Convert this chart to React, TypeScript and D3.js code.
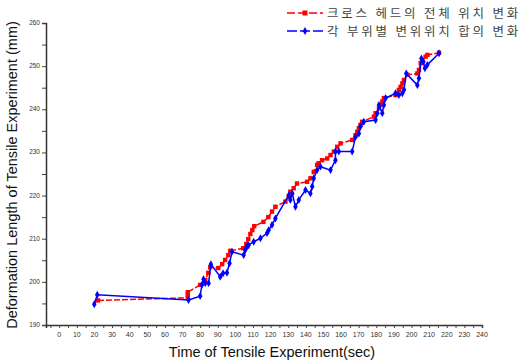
import React, { useRef, useEffect } from 'react';
import * as d3 from 'd3';

// Cross head total position change (red)
const crossTime = [22, 73, 73, 73, 80, 82.9, 84.6, 85.7, 90.3, 92.5, 94.2, 96, 97.1, 104.5, 106.2, 107.3, 108.5, 109.6, 110.7, 115.9, 118.7, 120.8, 122.7, 128.4, 130.3, 131.2, 133.1, 135, 140.7, 142.6, 144.5, 146.4, 147.3, 149.2, 152.1, 154, 155.9, 157.8, 159.7, 166.3, 168.2, 169.2, 170.1, 171, 172, 178.6, 179.6, 181.5, 182.4, 183.4, 184.3, 190.9, 192.8, 193.8, 194.8, 195.7, 197.6, 203.3, 204.2, 205.2, 206.1, 208, 209, 215.6];
const crossValue = [195.7, 196.3, 197.0, 197.6, 199.3, 200.4, 202.1, 203.4, 203.2, 204.1, 205.1, 206.2, 207.2, 207.8, 208.8, 209.9, 211.1, 212.0, 212.9, 213.9, 215.0, 216.3, 217.4, 218.6, 219.7, 220.9, 221.7, 222.8, 223.2, 224.0, 225.5, 227.1, 227.5, 228.2, 228.6, 229.4, 230.2, 231.3, 232.1, 232.9, 234.0, 234.8, 235.6, 236.4, 237.1, 238.3, 239.1, 240.2, 241.0, 241.8, 242.6, 243.3, 244.5, 245.2, 246.0, 246.8, 248.0, 248.3, 249.1, 250.7, 251.4, 252.2, 252.6, 253.1];

// Sum of displacements per part (blue)
const partTime = [19.9, 21.6, 73.4, 80, 81, 81.9, 82.9, 84.8, 86.1, 91.4, 93, 95.2, 96.7, 98.1, 104.7, 105.6, 106.6, 107.5, 110.4, 114.2, 118, 118.9, 120.8, 122.7, 130.3, 131.2, 132.3, 134.1, 136, 139.8, 142.6, 143.6, 144.5, 146.4, 148.3, 154, 156.8, 156.8, 158.7, 166.3, 168.2, 170.1, 171, 172.9, 179.6, 180.6, 181.5, 183.4, 184.3, 185.3, 190.9, 192.8, 194.8, 195.7, 197, 203.3, 204.2, 205.6, 206.7, 207.6, 209, 215.6];
const partValue = [194.8, 197.0, 195.8, 196.7, 199.3, 200.6, 199.7, 199.7, 204.1, 201.2, 202.0, 202.1, 204.3, 207.0, 206.2, 207.4, 208.2, 208.5, 209.3, 210.1, 211.3, 212.0, 213.2, 214.7, 220.1, 219.0, 220.5, 217.4, 219.0, 221.3, 220.5, 222.1, 224.0, 225.9, 226.7, 225.9, 228.2, 230.2, 230.2, 230.2, 233.6, 234.4, 236.0, 237.1, 237.5, 239.1, 241.0, 239.1, 241.0, 242.6, 243.7, 243.3, 243.7, 244.5, 248.3, 245.6, 247.2, 251.8, 251.0, 249.5, 250.3, 253.0];

const seriesNames = ['크로스 헤드의 전체 위치 변화', '각 부위별 변위위치 합의 변화'];
const seriesColors = ['#ff0000', '#0000ff'];
const xTicks = d3.range(0, 241, 10);
const yTicks = d3.range(190, 261, 10);

const App = () => {
  const svgRef = useRef<SVGSVGElement>(null);
  const width = 526;
  const height = 364;

  useEffect(() => {
    const svg = d3.select(svgRef.current);
    svg.selectAll('*').remove();

    const margin = { top: 23, right: 44, bottom: 39, left: 46 };

    const x = d3.scaleLinear().domain([-7.5, 240]).range([margin.left, width - margin.right]);
    const y = d3.scaleLinear().domain([190, 260]).range([height - margin.bottom, margin.top]);

    // Axes
    const xAxis = svg
      .append('g')
      .attr('transform', `translate(0,${height - margin.bottom})`)
      .call(d3.axisBottom(x).tickValues(d3.range(-5, 241, 5)).tickSize(3).tickFormat(() => ''));
    xAxis.select('.domain').attr('stroke', '#333').attr('stroke-width', 1.5);
    xAxis.selectAll('.tick line').attr('stroke', '#444');

    svg
      .append('g')
      .selectAll('text')
      .data(xTicks)
      .enter()
      .append('text')
      .attr('x', d => x(d))
      .attr('y', height - margin.bottom + 12)
      .attr('text-anchor', 'middle')
      .attr('font-family', 'Arial, Liberation Sans, sans-serif')
      .attr('font-size', '7px')
      .attr('fill', '#333')
      .text(d => d);

    const yAxis = svg
      .append('g')
      .attr('transform', `translate(${margin.left},0)`)
      .call(d3.axisLeft(y).tickValues(d3.range(190, 261, 5)).tickSize(4).tickFormat(() => ''));
    yAxis.select('.domain').attr('stroke', '#333').attr('stroke-width', 1.5);
    yAxis.selectAll('.tick line').attr('stroke', '#444');

    svg
      .append('g')
      .selectAll('text')
      .data(yTicks)
      .enter()
      .append('text')
      .attr('x', margin.left - 6)
      .attr('y', d => y(d) + 2)
      .attr('text-anchor', 'end')
      .attr('font-family', 'Arial, Liberation Sans, sans-serif')
      .attr('font-size', '6.5px')
      .attr('fill', '#333')
      .text(d => d);

    // Lines
    const line = d3
      .line<[number, number]>()
      .x(d => x(d[0]))
      .y(d => y(d[1]));

    const crossData: [number, number][] = crossTime.map((t, i) => [t, crossValue[i]]);
    const partData: [number, number][] = partTime.map((t, i) => [t, partValue[i]]);

    svg
      .append('path')
      .attr('d', line(crossData))
      .attr('fill', 'none')
      .attr('stroke', seriesColors[0])
      .attr('stroke-width', 1.5)
      .attr('stroke-dasharray', '6,2');

    svg
      .append('g')
      .selectAll('rect')
      .data(crossData)
      .enter()
      .append('rect')
      .attr('x', d => x(d[0]) - 2.2)
      .attr('y', d => y(d[1]) - 2.2)
      .attr('width', 4.4)
      .attr('height', 4.4)
      .attr('fill', seriesColors[0]);

    svg
      .append('path')
      .attr('d', line(partData))
      .attr('fill', 'none')
      .attr('stroke', seriesColors[1])
      .attr('stroke-width', 1.5);

    const diamond = d3.symbol().type(d3.symbolDiamond).size(18);
    svg
      .append('g')
      .selectAll('path')
      .data(partData)
      .enter()
      .append('path')
      .attr('transform', d => `translate(${x(d[0])},${y(d[1])})`)
      .attr('d', diamond())
      .attr('fill', seriesColors[1]);

    // Legend
    const legend = svg.append('g');
    seriesNames.forEach((name, i) => {
      const ly = 13 + i * 18;
      legend
        .append('line')
        .attr('x1', 287)
        .attr('x2', 323)
        .attr('y1', ly)
        .attr('y2', ly)
        .attr('stroke', seriesColors[i])
        .attr('stroke-width', 1.5)
        .attr('stroke-dasharray', i === 0 ? '8,3' : '10,3');
      if (i === 0) {
        legend.append('rect').attr('x', 302.5).attr('y', ly - 2.5).attr('width', 5).attr('height', 5).attr('fill', seriesColors[i]);
      } else {
        legend.append('path').attr('transform', `translate(305,${ly})`).attr('d', diamond()).attr('fill', seriesColors[i]);
      }
      legend
        .append('text')
        .attr('x', 327)
        .attr('y', ly + 4.5)
        .attr('font-family', 'Noto Sans CJK KR, sans-serif')
        .attr('font-size', '12.5px')
        .attr('letter-spacing', '2.8px')
        .attr('fill', '#444')
        .text(name);
    });

    // Axis titles
    svg
      .append('text')
      .attr('x', 272)
      .attr('y', 357)
      .attr('text-anchor', 'middle')
      .attr('font-family', 'Arial, Liberation Sans, sans-serif')
      .attr('font-size', '14.5px')
      .attr('fill', '#111')
      .text('Time of Tensile Experiment(sec)');

    svg
      .append('text')
      .attr('transform', 'rotate(-90)')
      .attr('x', -175)
      .attr('y', 17)
      .attr('text-anchor', 'middle')
      .attr('font-family', 'Arial, Liberation Sans, sans-serif')
      .attr('font-size', '14.5px')
      .attr('fill', '#111')
      .text('Deformation Length of Tensile Experiment (mm)');
  }, []);

  return (
    <svg
      ref={svgRef}
      width={width}
      height={height}
      style={{ position: 'absolute', left: 0, top: 0, background: '#fff' }}
    />
  );
};

export default App;
